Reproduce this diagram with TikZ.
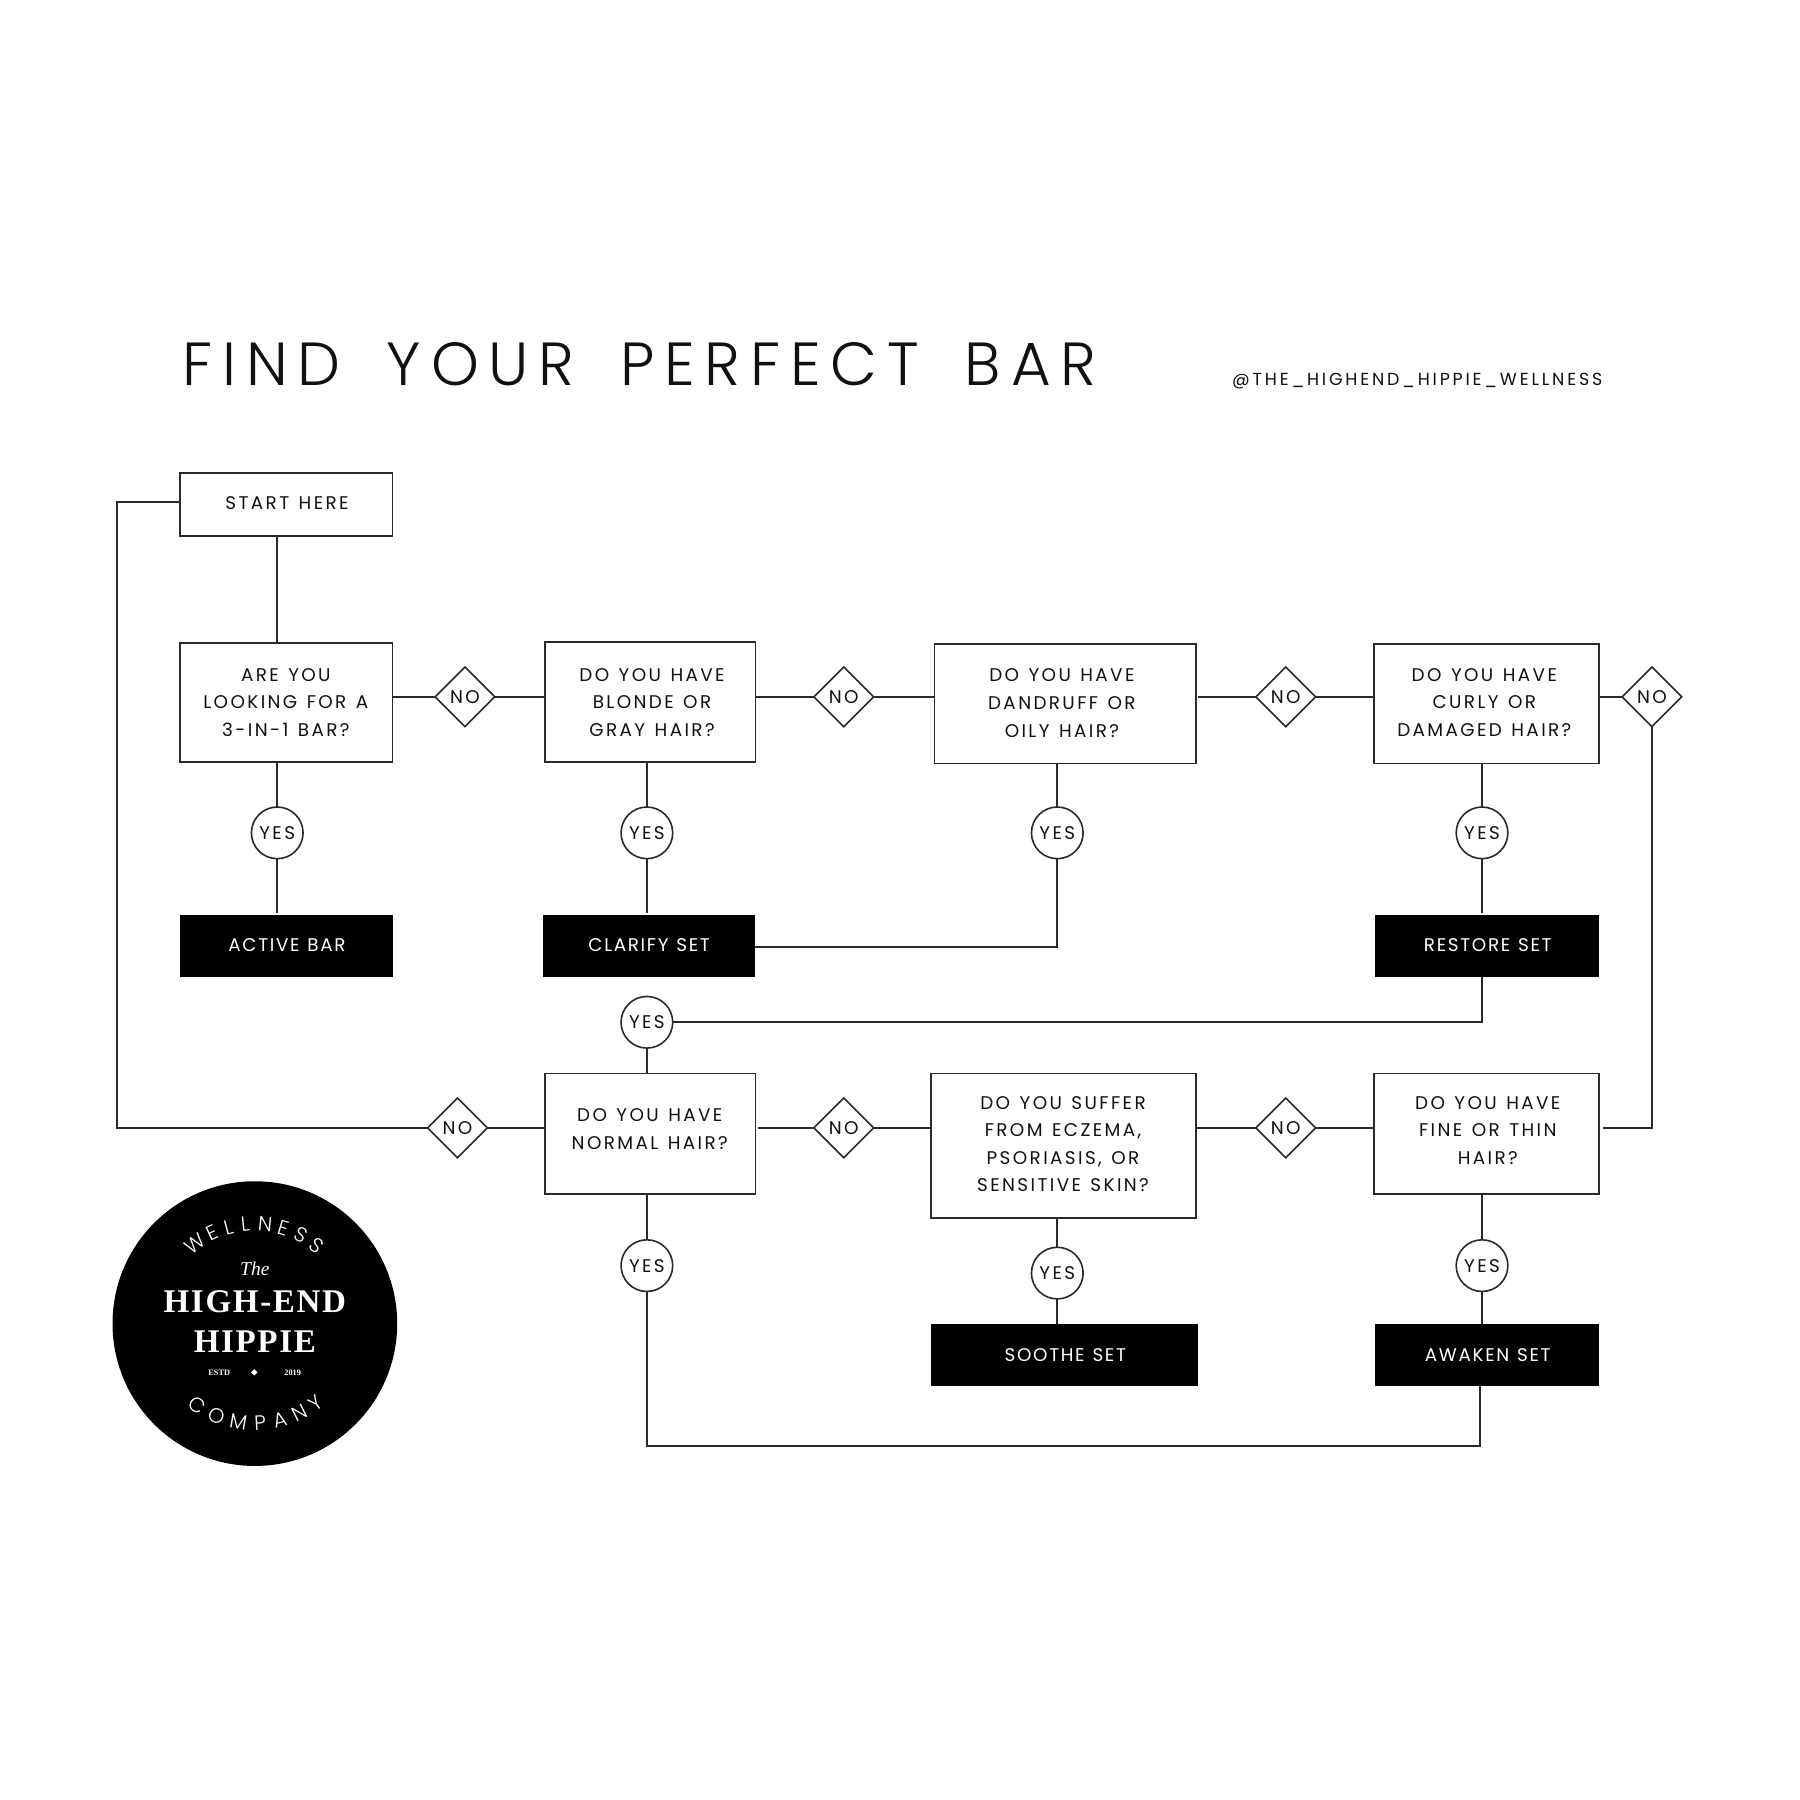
\documentclass[tikz,border=0pt]{standalone}
\usepackage{fontspec}
\usetikzlibrary{shapes.geometric,calc}
\setmainfont{Poppins}
\newfontfamily\popq[LetterSpace=13,WordSpace=1.3]{Poppins}
\newfontfamily\popp[LetterSpace=9,WordSpace=1.2]{Poppins}
\newfontfamily\poph[LetterSpace=16]{Poppins}
\newfontfamily\popt[LetterSpace=16,WordSpace=1.75]{Poppins Light}
\newfontfamily\popl{Poppins Light}
\newfontfamily\logoserif[LetterSpace=5]{Liberation Serif}
\newfontfamily\logosmall{Liberation Serif}
\definecolor{ink}{HTML}{111111}
\definecolor{wire}{HTML}{2A2A2A}
\tikzset{
  x=0.5pt,y=-0.5pt,
  wiring/.style={draw=wire,line width=0.7pt},
  qbox/.style={draw=wire,line width=0.7pt,fill=white,rectangle,inner sep=0pt,outer sep=0pt},
  prod/.style={draw=none,fill=black,rectangle,inner sep=0pt,outer sep=0pt},
  qtext/.style={text=ink,align=center,inner sep=0pt,font=\popq\fontsize{8}{12}\selectfont},
  ptext/.style={text=white,align=center,inner sep=0pt,font=\popp\fontsize{8}{12}\selectfont},
  yesc/.style={draw=wire,line width=0.7pt,fill=white,circle,minimum size=22.5pt,inner sep=0pt,outer sep=0pt,text=ink,font=\popq\fontsize{8}{12}\selectfont},
  nod/.style={draw=wire,line width=0.7pt,fill=white,diamond,minimum width=26pt,minimum height=26pt,inner sep=0pt,outer sep=0pt,text=ink,font=\popq\fontsize{8}{12}\selectfont},
  logoletter/.style={text=white,inner sep=0pt,font=\popl\fontsize{9}{9}\selectfont},
}
\begin{document}
\begin{tikzpicture}
\useasboundingbox[fill=white] (0,0) rectangle (1568,1568);
% title
\node[anchor=west,inner sep=0pt,text=ink,font=\popt\fontsize{26.5}{30}\selectfont] (title) at (159,317) {FIND YOUR PERFECT BAR};
\node[anchor=west,inner sep=0pt,text=ink,font=\poph\fontsize{7.6}{10}\selectfont] (handle) at (1073,332) {@THE\_HIGHEND\_HIPPIE\_WELLNESS};
% boxes
\node[qbox,minimum width=92.5pt,minimum height=27.5pt] (start) at (249.5,439.5) {};
\node[qbox,minimum width=92.5pt,minimum height=52pt] (q1) at (249.5,612) {};
\node[qbox,minimum width=91.5pt,minimum height=52.5pt] (q2) at (566.5,611.5) {};
\node[qbox,minimum width=114pt,minimum height=52pt] (q3) at (928,613) {};
\node[qbox,minimum width=98pt,minimum height=52pt] (q4) at (1295,613) {};
\node[qbox,minimum width=91.5pt,minimum height=52.5pt] (q5) at (566.5,987.5) {};
\node[qbox,minimum width=115.5pt,minimum height=63pt] (q6) at (926.5,998) {};
\node[qbox,minimum width=98pt,minimum height=52.5pt] (q7) at (1295,987.5) {};
\node[prod,minimum width=92.5pt,minimum height=27pt] (active) at (249.5,824) {};
\node[prod,minimum width=92.5pt,minimum height=27pt] (clarify) at (565.5,824) {};
\node[prod,minimum width=97.5pt,minimum height=27pt] (restore) at (1295.5,824) {};
\node[prod,minimum width=116.5pt,minimum height=27pt] (soothe) at (927.5,1180.5) {};
\node[prod,minimum width=97.5pt,minimum height=27pt] (awaken) at (1295.5,1180.5) {};
% decisions
\node[nod] (n1) at (405,607) {NO};
\node[nod] (n2) at (735,607) {NO};
\node[nod] (n3) at (1120,607) {NO};
\node[nod] (n4) at (1439,607) {NO};
\node[nod] (n5) at (398.5,982.5) {NO};
\node[nod] (n6) at (735,982.5) {NO};
\node[nod] (n7) at (1120,982.5) {NO};
\node[yesc] (y1) at (241.5,725.5) {YES};
\node[yesc] (y2) at (563.5,725.5) {YES};
\node[yesc] (y3) at (921,725.5) {YES};
\node[yesc] (y4) at (1291,725.5) {YES};
\node[yesc] (y5) at (563.5,890.5) {YES};
\node[yesc] (y6) at (563.5,1102.5) {YES};
\node[yesc] (y7) at (921,1109) {YES};
\node[yesc] (y8) at (1291,1102.5) {YES};
% connectors
\draw[wiring] (y1 |- start.south) -- (y1 |- q1.north);
\draw[wiring] (start.west |- 0,437.5) -- (102,437.5) -- (102,982.5) -- (n5.west);
\draw[wiring] (n5.east) -- (n5.east -| q5.west);
\draw[wiring] (n1.west -| q1.east) -- (n1.west);
\draw[wiring] (n1.east) -- (n1.east -| q2.west);
\draw[wiring] (n2.west -| q2.east) -- (n2.west);
\draw[wiring] (n2.east) -- (n2.east -| q3.west);
\draw[wiring,shorten <=1pt] (n3.west -| q3.east) -- (n3.west);
\draw[wiring] (n3.east) -- (n3.east -| q4.west);
\draw[wiring] (n4.west -| q4.east) -- (n4.west);
\draw[wiring,shorten >=1.5pt] (n4.south) -- (n4.south |- 0,982.5) -- (n4.south |- 0,982.5 -| q7.east);
\draw[wiring] (y1 |- q1.south) -- (y1.north);
\draw[wiring,shorten >=1pt] (y1.south) -- (y1 |- active.north);
\draw[wiring] (y2 |- q2.south) -- (y2.north);
\draw[wiring,shorten >=1pt] (y2.south) -- (y2 |- clarify.north);
\draw[wiring] (y3 |- q3.south) -- (y3.north);
\draw[wiring] (clarify.east |- 0,825) -- (y3 |- 0,825) -- (y3.south);
\draw[wiring] (y4 |- q4.south) -- (y4.north);
\draw[wiring,shorten >=1pt] (y4.south) -- (y4 |- restore.north);
\draw[wiring] (y4 |- restore.south) -- (y4 |- y5.east) -- (y5.east);
\draw[wiring] (y5.south) -- (y5 |- q5.north);
\draw[wiring,shorten <=1pt] (n6.west -| q5.east) -- (n6.west);
\draw[wiring] (n6.east) -- (n6.east -| q6.west);
\draw[wiring] (n7.west -| q6.east) -- (n7.west);
\draw[wiring] (n7.east) -- (n7.east -| q7.west);
\draw[wiring] (y6 |- q5.south) -- (y6.north);
\draw[wiring] (y6.south) -- (y6 |- 0,1259.5) -- (1289,1259.5) -- (1289,1207);
\draw[wiring] (y7 |- q6.south) -- (y7.north);
\draw[wiring] (y7.south) -- (y7 |- soothe.north);
\draw[wiring] (y8 |- q7.south) -- (y8.north);
\draw[wiring] (y8.south) -- (y8 |- awaken.north);
% box texts
\node[qtext] (t0) at (250,438.5) {START HERE};
\node[qtext] (t1) at (249,612) {ARE YOU\\LOOKING FOR A\\3-IN-1 BAR?};
\node[qtext] (t2) at (568,612) {DO YOU HAVE\\BLONDE OR\\GRAY HAIR?};
\node[qtext] (t3) at (925,612.5) {DO YOU HAVE\\DANDRUFF OR\\OILY HAIR?};
\node[qtext] (t4) at (1293,612) {DO YOU HAVE\\CURLY OR\\DAMAGED HAIR?};
\node[qtext] (t5) at (566,983.5) {DO YOU HAVE\\NORMAL HAIR?};
\node[qtext] (t6) at (926,996.5) {DO YOU SUFFER\\FROM ECZEMA,\\PSORIASIS, OR\\SENSITIVE SKIN?};
\node[qtext] (t7) at (1296,984.5) {DO YOU HAVE\\FINE OR THIN\\HAIR?};
\node[ptext] (t8) at (250,823.5) {ACTIVE BAR};
\node[ptext] (t9) at (565.5,823.5) {CLARIFY SET};
\node[ptext] (t10) at (1296,823.5) {RESTORE SET};
\node[ptext] (t11) at (928,1180) {SOOTHE SET};
\node[ptext] (t12) at (1296,1180) {AWAKEN SET};
% logo
\node[circle,fill=black,minimum size=124pt,inner sep=0pt,outer sep=0pt] (logo) at (222,1153) {};
\foreach \a/\c [count=\i] in {-37/W,-25/E,-15/L,-5.5/L,6/N,17/E,27.5/S,38.5/S}
  \node[logoletter,rotate=-\a] (w\i) at ({222+87*sin(\a)},{1153-87*cos(\a)}) {\c};
\foreach \a/\c [count=\i] in {-35.5/C,-22.5/O,-9.5/M,3/P,14.8/A,26.5/N,37.4/Y}
  \node[logoletter,rotate=\a] (c\i) at ({222+87*sin(\a)},{1153+87*cos(\a)}) {\c};
\node[text=white,inner sep=0pt,font=\logosmall\itshape\fontsize{8.5}{9}\selectfont] (the) at (222,1105) {The};
\node[text=white,inner sep=0pt,font=\logoserif\bfseries\fontsize{14.4}{15}\selectfont] (he) at (222,1134) {HIGH-END};
\node[text=white,inner sep=0pt,font=\logoserif\bfseries\fontsize{14.4}{15}\selectfont] (hi) at (222,1169) {HIPPIE};
\node[text=white,inner sep=0pt,font=\logosmall\bfseries\fontsize{3.6}{4}\selectfont] (es) at (191,1195.5) {ESTD};
\node[text=white,inner sep=0pt,font=\logosmall\bfseries\fontsize{3.6}{4}\selectfont] (yr) at (255,1195.5) {2019};
\node[diamond,fill=white,minimum width=3pt,minimum height=3pt,inner sep=0pt] (dot) at (221.5,1195.5) {};
\end{tikzpicture}
\end{document}
